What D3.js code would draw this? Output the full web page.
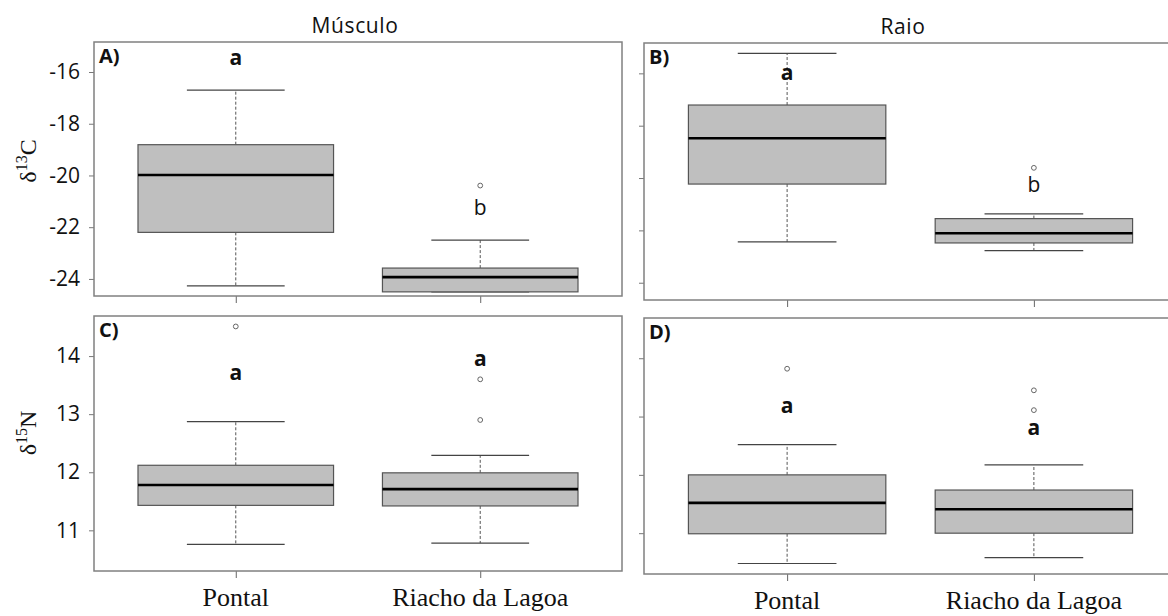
<!DOCTYPE html>
<html>
<head>
<meta charset="utf-8">
<style>
  body { margin: 0; background: #fff; }
  svg text { fill: #111; }
  .tick-lab { font: 21px "Open Sans", sans-serif; }
  .grp { font: 26px "Liberation Serif", "DejaVu Serif", serif; }
  .ttl { font: 21px "Open Sans", sans-serif; letter-spacing: 0.6px; }
  .plab { font: bold 20px "Open Sans", sans-serif; }
  .sig { font: 21px "Open Sans", sans-serif; }
</style>
</head>
<body>
<svg width="1168" height="616"></svg>
<script src="https://cdn.jsdelivr.net/npm/d3@7"></script>
<script>
// groups and tissues
var groups = ["Pontal", "Riacho da Lagoa"];
var tissues = ["Músculo", "Raio"];

// box stats: [lower whisker, q1, median, q3, upper whisker]
var carbonMusculo = [[-24.27, -22.2, -19.98, -18.81, -16.7], [-24.5, -24.5, -23.93, -23.58, -22.5]];
var carbonRaio = [[-22.44, -20.23, -18.48, -17.21, -15.24], [-22.77, -22.48, -22.11, -21.55, -21.37]];
var nitroMusculo = [[10.76, 11.43, 11.78, 12.12, 12.87], [10.78, 11.42, 11.71, 11.99, 12.29]];
var nitroRaio = [[10.48, 10.99, 11.52, 12.0, 12.52], [10.58, 11.0, 11.41, 11.74, 12.17]];

// outliers
var carbonMusculoOut = [[], [-20.39]];
var carbonRaioOut = [[], [-19.61]];
var nitroMusculoOut = [[14.51], [13.6, 12.9]];
var nitroRaioOut = [[13.82], [13.45, 13.11]];

// significance letters and where they sit (data units)
var carbonMusculoSig = ["a", "b"], carbonMusculoSigY = [-15.73, -21.53];
var carbonRaioSig = ["a", "b"], carbonRaioSigY = [-16.25, -20.53];
var nitroMusculoSig = ["a", "a"], nitroMusculoSigY = [13.59, 13.83];
var nitroRaioSig = ["a", "a"], nitroRaioSigY = [13.06, 12.68];

var carbonTicks = [-16, -18, -20, -22, -24];
var nitroTicks = [11, 12, 13, 14];
var carbonDomain = [-24.66, -14.84];
var nitroDomain = [10.30, 14.69];

var svg = d3.select("svg");

var panels = [
  {lab: "A)", x0: 94, x1: 622, y0: 42, y1: 296, dom: carbonDomain, ticks: carbonTicks, labels: true,
   stats: carbonMusculo, out: carbonMusculoOut, sig: carbonMusculoSig, sigY: carbonMusculoSigY, sigBold: [true, false], title: tissues[0]},
  {lab: "B)", x0: 644, x1: 1177, y0: 43, y1: 300, dom: carbonDomain, ticks: carbonTicks, labels: false,
   stats: carbonRaio, out: carbonRaioOut, sig: carbonRaioSig, sigY: carbonRaioSigY, sigBold: [true, false], title: tissues[1]},
  {lab: "C)", x0: 94, x1: 622, y0: 316, y1: 571, dom: nitroDomain, ticks: nitroTicks, labels: true,
   stats: nitroMusculo, out: nitroMusculoOut, sig: nitroMusculoSig, sigY: nitroMusculoSigY, sigBold: [true, true], groupLabels: true},
  {lab: "D)", x0: 644, x1: 1177, y0: 318, y1: 574, dom: nitroDomain, ticks: nitroTicks, labels: false,
   stats: nitroRaio, out: nitroRaioOut, sig: nitroRaioSig, sigY: nitroRaioSigY, sigBold: [true, true], groupLabels: true}
];

panels.forEach(function (p) {
  var x = d3.scaleLinear().domain([0.42, 2.58]).range([p.x0, p.x1]);
  var y = d3.scaleLinear().domain(p.dom).range([p.y1, p.y0]);
  var g = svg.append("g");

  // y axis
  var ya = g.append("g")
    .attr("transform", "translate(" + p.x0 + ",0)")
    .call(d3.axisLeft(y).tickValues(p.ticks).tickSize(5).tickPadding(9)
      .tickFormat(p.labels ? d3.format("d") : ""));
  ya.select(".domain").remove();
  ya.selectAll("line").attr("stroke", "#777");
  ya.selectAll("text").attr("class", "tick-lab").attr("fill", "#111")
    .text(function (d) { return p.labels ? (d < 0 ? "-" + Math.abs(d) : d) : ""; });

  // x axis ticks
  var xa = g.append("g")
    .attr("transform", "translate(0," + p.y1 + ")")
    .call(d3.axisBottom(x).tickValues([1, 2]).tickSize(7).tickFormat(""));
  xa.select(".domain").remove();
  xa.selectAll("line").attr("stroke", "#666");

  var bw = 0.4;
  groups.forEach(function (grp, i) {
    var s = p.stats[i], c = i + 1;
    // whiskers
    g.append("line").attr("x1", x(c)).attr("x2", x(c)).attr("y1", y(s[3])).attr("y2", y(s[4]))
      .attr("stroke", "#555").attr("stroke-width", 1).attr("stroke-dasharray", "3,2");
    g.append("line").attr("x1", x(c)).attr("x2", x(c)).attr("y1", y(s[1])).attr("y2", y(s[0]))
      .attr("stroke", "#555").attr("stroke-width", 1).attr("stroke-dasharray", "3,2");
    // staples
    [s[0], s[4]].forEach(function (v) {
      g.append("line").attr("x1", x(c - bw / 2)).attr("x2", x(c + bw / 2)).attr("y1", y(v)).attr("y2", y(v))
        .attr("stroke", "#444").attr("stroke-width", 1.2);
    });
    // box
    g.append("rect").attr("x", x(c - bw)).attr("width", x(c + bw) - x(c - bw))
      .attr("y", y(s[3])).attr("height", y(s[1]) - y(s[3]))
      .attr("fill", "#bfbfbf").attr("stroke", "#555").attr("stroke-width", 1.2);
    // median
    g.append("line").attr("x1", x(c - bw)).attr("x2", x(c + bw)).attr("y1", y(s[2])).attr("y2", y(s[2]))
      .attr("stroke", "#000").attr("stroke-width", 2.6);
    // outliers
    p.out[i].forEach(function (v) {
      g.append("circle").attr("cx", x(c)).attr("cy", y(v)).attr("r", 2.4)
        .attr("fill", "#fff").attr("stroke", "#666").attr("stroke-width", 1);
    });
    // letters
    g.append("text").attr("class", "sig").attr("x", x(c)).attr("y", y(p.sigY[i]))
      .attr("text-anchor", "middle").style("font-weight", p.sigBold[i] ? "bold" : "normal")
      .text(p.sig[i]);
    if (p.groupLabels) {
      g.append("text").attr("class", "grp").attr("x", x(c)).attr("y", p.y1 + 35)
        .attr("text-anchor", "middle").text(grp);
    }
  });

  // frame
  g.append("rect").attr("x", p.x0).attr("y", p.y0).attr("width", p.x1 - p.x0).attr("height", p.y1 - p.y0)
    .attr("fill", "none").attr("stroke", "#808080").attr("stroke-width", 1.5);

  g.append("text").attr("class", "plab").attr("x", p.x0 + 5).attr("y", p.y0 + 21).text(p.lab);

  if (p.title) {
    g.append("text").attr("class", "ttl").attr("x", (p.x0 + Math.min(p.x1, 1168)) / 2 - 3).attr("y", p.y0 - 9)
      .attr("text-anchor", "middle").text(p.title);
  }
});

// y axis titles
function yTitle(cy, iso, el) {
  var t = svg.append("text").attr("transform", "translate(36," + cy + ") rotate(-90)")
    .attr("text-anchor", "middle")
    .style("font", "24px 'Liberation Serif', serif");
  t.append("tspan").text("δ");
  t.append("tspan").attr("dy", -9).style("font-size", "16px").text(iso);
  t.append("tspan").attr("dy", 9).text(el);
}
yTitle(161, "13", "C");
yTitle(433, "15", "N");
</script>
</body>
</html>
